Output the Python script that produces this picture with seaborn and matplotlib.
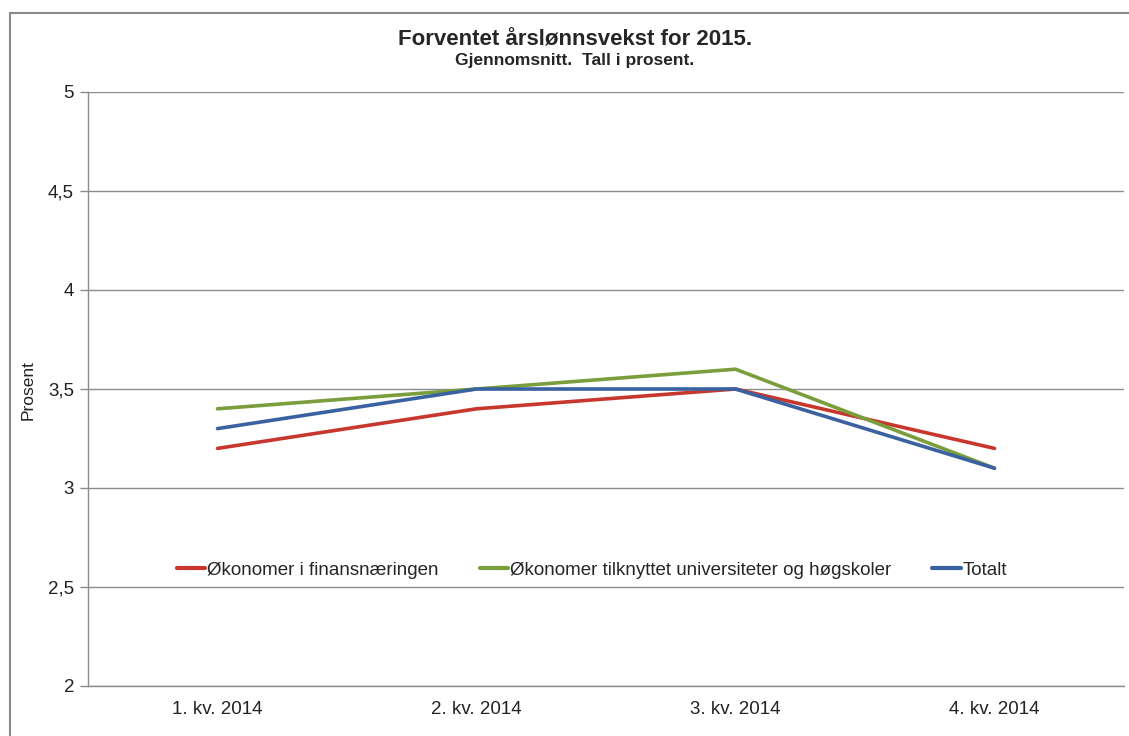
import numpy as np
import pandas as pd
import matplotlib
matplotlib.use("Agg")
import matplotlib.pyplot as plt
import seaborn as sns
from matplotlib.patches import Rectangle
from matplotlib.ticker import FixedLocator, FuncFormatter

# Data
quarters = ["1. kv. 2014", "2. kv. 2014", "3. kv. 2014", "4. kv. 2014"]
finans = [3.2, 3.4, 3.5, 3.2]
universitet = [3.4, 3.5, 3.6, 3.1]
totalt = [3.3, 3.5, 3.5, 3.1]
series_names = ["Økonomer i finansnæringen",
                "Økonomer tilknyttet universiteter og høgskoler",
                "Totalt"]
colors = ["#C8372D", "#7A9E3B", "#3A62A0"]

df = pd.DataFrame({
    "kvartal": quarters * 3,
    "x": list(range(len(quarters))) * 3,
    "verdi": finans + universitet + totalt,
    "serie": [series_names[0]] * 4 + [series_names[1]] * 4 + [series_names[2]] * 4,
})

sns.set_style("white")
plt.rcParams["font.family"] = ["Liberation Sans", "DejaVu Sans"]

fig = plt.figure(figsize=(11.29, 7.36), dpi=100)
ax = fig.add_axes([88 / 1129, 50 / 736, 1036 / 1129, 594 / 736])

sns.lineplot(data=df, x="x", y="verdi", hue="serie", hue_order=series_names,
             palette=colors, linewidth=2.6, ax=ax, legend=True)

ax.set_xlim(-0.5, 3.5)
ax.set_ylim(2, 5)
ax.set_yticks(np.arange(2, 5.01, 0.5))
ax.yaxis.set_major_formatter(FuncFormatter(lambda v, p: f"{v:g}".replace(".", ",")))
ax.grid(axis="y", color="#8C8C8C", linewidth=1)
ax.set_axisbelow(True)

ax.set_xticks(range(len(quarters)))
ax.set_xticklabels(quarters)
ax.xaxis.set_minor_locator(FixedLocator(np.arange(-0.5, 3.6, 1.0)))
ax.tick_params(axis="x", which="major", length=0, pad=11, labelsize=13.5, labelcolor="#222222")
ax.tick_params(axis="x", which="minor", length=5, color="#8C8C8C", width=1, direction="out")
ax.tick_params(axis="y", length=6, color="#8C8C8C", width=1, direction="out",
               pad=4, labelsize=13.5, labelcolor="#222222", left=True)

for side in ["top", "right"]:
    ax.spines[side].set_visible(False)
for side in ["left", "bottom"]:
    ax.spines[side].set_color("#8C8C8C")
    ax.spines[side].set_linewidth(1)

ax.set_xlabel("")
ax.set_ylabel("Prosent", fontsize=12.5, color="#222222")
ax.yaxis.set_label_coords(-52 / 1036, (686 - 390) / 594)

leg = ax.legend(loc="center", bbox_to_anchor=((592 - 88) / 1036, (2.586 - 2) / 3), ncol=3,
                frameon=False, fontsize=13.5, handlelength=1.5, handletextpad=0.1,
                columnspacing=2.2)
for line in leg.get_lines():
    line.set_linewidth(3)

fig.text(0.509, 1 - 40 / 736, "Forventet årslønnsvekst for 2015.", ha="center",
         va="center", fontsize=16, fontweight="bold")
fig.text(0.509, 1 - 61 / 736, "Gjennomsnitt.  Tall i prosent.", ha="center",
         va="center", fontsize=12.5, fontweight="bold")

# outer chart border
fig.patches.append(Rectangle((10 / 1129, -0.05), 1.2, 1 - 13 / 736 + 0.05,
                             transform=fig.transFigure, fill=False,
                             edgecolor="#8A8A8A", linewidth=1.5))

fig.savefig("out.png", dpi=100)
